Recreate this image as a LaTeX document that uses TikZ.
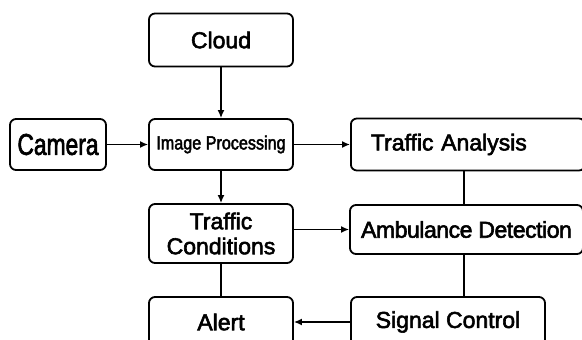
\documentclass[tikz,border=0pt]{standalone}
\usepackage{fontspec}
\setmainfont{Liberation Sans}[BoldFont=Liberation Sans,
  BoldFeatures={FakeBold=2.5}]
\usepackage{graphicx}
\usetikzlibrary{arrows.meta,positioning}

\begin{document}
\begin{tikzpicture}[
      x=1pt, y=-1pt, >=Latex,
      box/.style={draw, rounded corners=6pt, line width=1.8pt,
        inner sep=0pt, align=center,
        font=\fontsize{23}{25}\selectfont\bfseries},
      flow/.style={->, line width=1.5pt,
        >={Latex[length=8pt,width=7pt]}},
      link/.style={line width=1.5pt}
    ]

    % ------------------ Frame ------------------
    \useasboundingbox (0,0) rectangle (582,340);
    \clip (0,0) rectangle (582,340);

    % ------------------ Left column ------------------
    \node[box, minimum width=144pt, minimum height=53pt]
      (cloud) at (221,40) {Cloud};
    \node[box, minimum width=144pt, minimum height=51pt]
      (improc) at (221,144.5)
      {\fontsize{19}{19}\selectfont\scalebox{0.85}[1]{Image Processing}};
    \node[box, minimum width=96pt, minimum height=51pt]
      (camera) at (58,144.5)
      {\fontsize{30}{30}\selectfont\scalebox{0.76}[1]{Camera}};
    \node[box, minimum width=144pt, minimum height=59pt]
      (tcond) at (221,233.5) {Traffic\\Conditions};
    \node[box, minimum width=144pt, minimum height=50pt]
      (alert) at (221,322) {Alert};

    % ------------------ Right column ------------------
    \node[box, minimum height=52pt, anchor=west, inner xsep=20pt,
      text width=194pt, align=left]
      (tanalysis) at (350,144.5) {Traffic Analysis};
    \node[box, minimum width=233pt, minimum height=49pt]
      (ambulance) at (466.5,229.5)
      {\addfontfeature{LetterSpace=-2}Ambulance Detection};
    \node[box, minimum width=194pt, minimum height=50pt]
      (signal) at (448,322) {Signal Control};

    % ------------------ Connectors ------------------
    \draw[flow] (cloud) -- (improc);
    \draw[flow] (camera) -- (improc);
    \draw[flow] (improc) -- (tanalysis);
    \draw[flow] (improc) -- (tcond);
    \draw[flow] (ambulance.west -| tcond.east) -- (ambulance.west);
    \draw[flow] (signal) -- (alert);

    \draw[link] (tanalysis.south -| 464,0) -- (ambulance.north -| 464,0);
    \draw[link] (ambulance.south -| 464,0) -- (signal.north -| 464,0);
    \draw[link] (tcond) -- (alert);

  \end{tikzpicture}
\end{document}
